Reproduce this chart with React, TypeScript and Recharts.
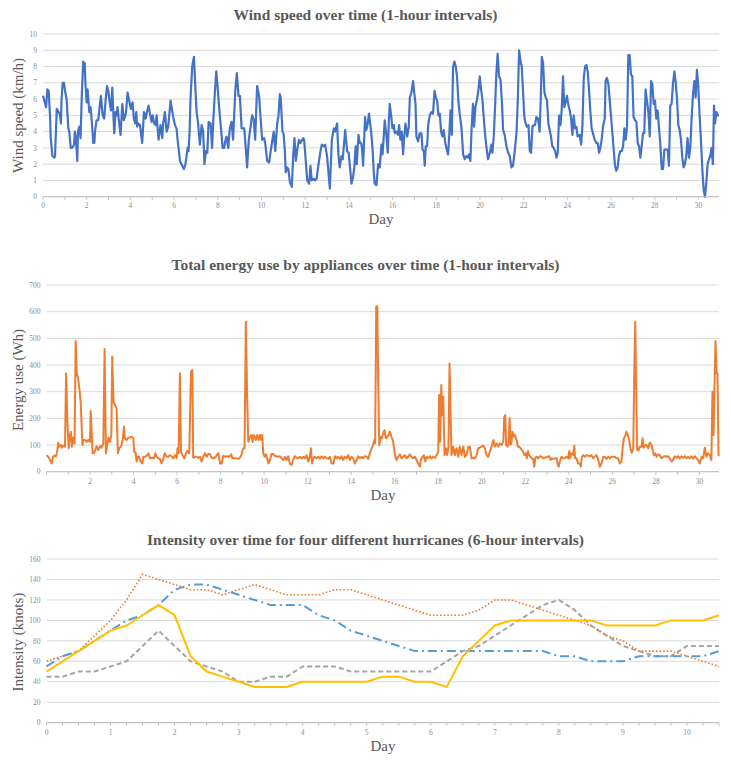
import React from "react";
import { LineChart, Line, XAxis, YAxis, CartesianGrid } from "recharts";

// ---- wind speed (day, km/h) ----
const windDays = [
  0, 0.14, 0.2, 0.26, 0.32, 0.35, 0.43, 0.52, 0.55, 0.63,
  0.72, 0.78, 0.82, 0.85, 0.9, 0.96, 1.01, 1.08, 1.16, 1.2,
  1.27, 1.33, 1.39, 1.42, 1.46, 1.51, 1.57, 1.6, 1.66, 1.72,
  1.77, 1.84, 1.91, 1.94, 2.0, 2.04, 2.12, 2.18, 2.24, 2.3,
  2.35, 2.38, 2.45, 2.53, 2.58, 2.65, 2.73, 2.8, 2.87, 2.93,
  2.99, 3.06, 3.11, 3.17, 3.26, 3.32, 3.37, 3.41, 3.48, 3.55,
  3.63, 3.7, 3.77, 3.8, 3.87, 3.93, 4.02, 4.1, 4.16, 4.22,
  4.27, 4.31, 4.36, 4.44, 4.54, 4.62, 4.7, 4.74, 4.83, 4.91,
  4.97, 5.02, 5.09, 5.15, 5.2, 5.29, 5.38, 5.46, 5.5, 5.58,
  5.66, 5.73, 5.84, 5.91, 5.96, 6.04, 6.11, 6.16, 6.27, 6.34,
  6.45, 6.52, 6.62, 6.66, 6.71, 6.75, 6.83, 6.91, 6.98, 7.03,
  7.1, 7.18, 7.26, 7.33, 7.39, 7.45, 7.52, 7.58, 7.67, 7.74,
  7.79, 7.87, 7.93, 7.99, 8.06, 8.16, 8.22, 8.29, 8.34, 8.4,
  8.48, 8.55, 8.63, 8.7, 8.8, 8.87, 8.95, 9.01, 9.09, 9.21,
  9.28, 9.34, 9.42, 9.5, 9.57, 9.65, 9.71, 9.8, 9.89, 9.95,
  10.03, 10.12, 10.17, 10.26, 10.35, 10.41, 10.5, 10.56, 10.63, 10.72,
  10.78, 10.84, 10.88, 10.96, 11.01, 11.07, 11.11, 11.17, 11.23, 11.3,
  11.39, 11.45, 11.51, 11.57, 11.63, 11.71, 11.78, 11.91, 11.95, 12.01,
  12.09, 12.18, 12.24, 12.3, 12.39, 12.45, 12.52, 12.59, 12.7, 12.76,
  12.85, 12.91, 13.0, 13.13, 13.22, 13.31, 13.37, 13.46, 13.52, 13.58,
  13.66, 13.72, 13.83, 13.92, 13.99, 14.12, 14.19, 14.25, 14.31, 14.36,
  14.44, 14.5, 14.56, 14.6, 14.65, 14.74, 14.8, 14.85, 14.92, 15.02,
  15.08, 15.14, 15.18, 15.26, 15.34, 15.41, 15.49, 15.54, 15.6, 15.64,
  15.72, 15.78, 15.83, 15.87, 15.95, 15.99, 16.06, 16.1, 16.18, 16.25,
  16.3, 16.36, 16.42, 16.48, 16.54, 16.59, 16.67, 16.74, 16.79, 16.86,
  16.94, 16.99, 17.05, 17.09, 17.17, 17.24, 17.32, 17.37, 17.43, 17.47,
  17.52, 17.58, 17.63, 17.7, 17.78, 17.85, 17.92, 17.98, 18.04, 18.1,
  18.16, 18.22, 18.28, 18.34, 18.4, 18.46, 18.54, 18.59, 18.65, 18.71,
  18.77, 18.83, 18.89, 18.95, 19.01, 19.07, 19.15, 19.23, 19.3, 19.38,
  19.46, 19.5, 19.56, 19.62, 19.68, 19.73, 19.79, 19.87, 19.93, 19.99,
  20.05, 20.11, 20.17, 20.23, 20.29, 20.37, 20.45, 20.52, 20.57, 20.63,
  20.69, 20.75, 20.81, 20.87, 20.94, 21.0, 21.06, 21.13, 21.21, 21.29,
  21.36, 21.44, 21.51, 21.59, 21.67, 21.73, 21.79, 21.85, 21.91, 21.97,
  22.03, 22.09, 22.15, 22.22, 22.28, 22.34, 22.4, 22.46, 22.52, 22.58,
  22.66, 22.73, 22.78, 22.83, 22.89, 22.95, 23.01, 23.07, 23.13, 23.19,
  23.25, 23.31, 23.37, 23.44, 23.5, 23.56, 23.62, 23.68, 23.74, 23.8,
  23.86, 23.92, 23.98, 24.05, 24.11, 24.17, 24.23, 24.29, 24.35, 24.41,
  24.47, 24.56, 24.63, 24.69, 24.75, 24.81, 24.87, 24.93, 24.99, 25.05,
  25.11, 25.17, 25.25, 25.33, 25.39, 25.45, 25.51, 25.57, 25.63, 25.71,
  25.75, 25.81, 25.88, 25.94, 26.0, 26.06, 26.12, 26.18, 26.24, 26.3,
  26.36, 26.42, 26.49, 26.55, 26.61, 26.67, 26.73, 26.79, 26.85, 26.91,
  26.97, 27.03, 27.1, 27.16, 27.22, 27.28, 27.34, 27.4, 27.46, 27.52,
  27.58, 27.64, 27.71, 27.77, 27.83, 27.89, 27.95, 28.01, 28.07, 28.13,
  28.19, 28.25, 28.32, 28.38, 28.44, 28.5, 28.59, 28.65, 28.71, 28.77,
  28.83, 28.9, 28.96, 29.02, 29.08, 29.14, 29.2, 29.26, 29.32, 29.38,
  29.44, 29.5, 29.57, 29.63, 29.69, 29.75, 29.81, 29.87, 29.93, 29.99,
  30.05, 30.12, 30.18, 30.24, 30.3, 30.36, 30.42, 30.48, 30.54, 30.6,
  30.66, 30.71, 30.76, 30.82, 30.88, 30.94,
];
const windSpeed = [
  6.2, 5.5, 6.6, 6.5, 5.0, 3.7, 2.5, 2.4, 2.5, 5.4,
  5.2, 5.0, 4.5, 6.0, 7.0, 7.0, 6.5, 6.0, 4.2, 4.0,
  3.0, 3.0, 3.1, 3.2, 4.0, 3.5, 2.2, 4.0, 4.3, 3.6,
  6.0, 8.3, 8.2, 7.0, 5.8, 6.6, 5.2, 5.5, 4.5, 3.3,
  3.3, 4.0, 4.7, 4.7, 5.4, 6.2, 5.0, 4.8, 6.0, 6.8,
  6.5, 5.7, 5.3, 6.7, 3.9, 5.2, 5.0, 5.5, 4.6, 3.8,
  5.7, 4.7, 5.0, 5.2, 6.4, 6.0, 5.4, 5.8, 4.8, 4.5,
  5.2, 4.3, 4.5, 4.4, 3.3, 5.2, 4.8, 5.1, 5.6, 5.0,
  4.6, 5.0, 4.5, 4.4, 5.0, 3.5, 4.4, 3.6, 4.5, 5.2,
  4.0, 4.3, 5.9, 5.3, 4.9, 4.4, 4.2, 3.5, 2.2, 2.0,
  1.7, 2.0, 3.0, 2.8, 4.0, 6.0, 8.0, 8.6, 6.5, 5.2,
  4.5, 3.2, 4.4, 4.0, 2.0, 2.8, 2.7, 4.6, 4.5, 3.0,
  4.6, 6.5, 7.7, 6.8, 5.5, 4.0, 3.0, 3.0, 3.4, 3.7,
  3.0, 4.2, 4.6, 3.5, 6.5, 7.6, 6.2, 6.2, 4.2, 4.2,
  3.0, 1.8, 3.5, 4.3, 5.0, 4.7, 3.5, 6.8, 6.2, 5.0,
  3.5, 3.6, 3.3, 2.2, 2.1, 2.7, 3.5, 4.0, 2.8, 4.5,
  5.0, 6.3, 6.1, 4.0, 3.9, 2.8, 1.5, 1.8, 1.7, 0.9,
  0.6, 2.5, 3.6, 2.2, 2.8, 3.5, 3.3, 3.6, 3.5, 2.5,
  1.0, 0.8, 1.9, 1.0, 1.1, 1.0, 1.1, 1.8, 2.8, 3.2,
  3.1, 3.2, 2.5, 0.5, 3.5, 4.2, 4.0, 4.5, 2.6, 1.8,
  2.5, 2.3, 4.1, 2.8, 2.7, 0.8, 1.2, 1.8, 3.1, 2.0,
  3.8, 3.3, 3.3, 3.0, 1.9, 4.9, 4.1, 4.4, 5.1, 4.0,
  3.0, 1.5, 0.8, 0.7, 2.0, 1.8, 3.2, 2.6, 3.8, 4.7,
  3.7, 2.7, 4.7, 5.7, 4.8, 4.2, 4.4, 3.9, 4.0, 3.8,
  4.4, 3.5, 4.0, 2.6, 3.8, 4.5, 3.7, 4.3, 6.1, 6.4,
  7.1, 6.4, 5.7, 3.7, 3.4, 3.9, 3.9, 2.9, 2.8, 1.9,
  3.1, 3.1, 4.4, 5.0, 5.2, 5.1, 6.5, 6.1, 5.9, 5.0,
  5.1, 4.0, 3.7, 4.1, 3.4, 3.0, 2.6, 3.7, 5.3, 3.8,
  8.0, 8.3, 8.0, 7.4, 5.9, 5.1, 4.3, 2.6, 2.3, 2.5,
  2.4, 2.6, 2.2, 4.3, 5.7, 4.3, 5.5, 6.0, 6.6, 7.4,
  6.6, 6.0, 4.9, 3.9, 3.1, 2.3, 2.7, 3.2, 2.7, 3.7,
  5.5, 7.6, 8.8, 7.4, 7.2, 5.9, 4.1, 3.8, 3.1, 2.7,
  2.5, 1.8, 1.9, 2.8, 3.9, 5.9, 9.0, 8.4, 8.0, 6.5,
  4.9, 4.5, 4.3, 4.4, 2.8, 2.7, 4.3, 4.4, 4.4, 4.9,
  4.8, 4.0, 5.9, 8.6, 8.2, 6.4, 6.1, 5.9, 4.5, 4.1,
  3.7, 3.1, 3.0, 2.8, 2.4, 2.7, 5.0, 4.4, 5.3, 7.4,
  5.5, 5.8, 6.2, 5.6, 5.3, 4.8, 3.8, 5.0, 4.2, 4.3,
  3.7, 3.8, 3.2, 4.4, 7.3, 8.0, 8.1, 7.7, 6.6, 5.3,
  4.2, 3.9, 3.5, 3.3, 3.3, 2.7, 3.0, 3.5, 4.3, 4.8,
  7.1, 7.3, 6.9, 5.9, 4.9, 3.9, 2.9, 1.9, 1.6, 1.8,
  2.5, 2.8, 2.8, 3.1, 4.2, 3.5, 4.3, 8.7, 8.7, 7.5,
  7.4, 4.9, 4.7, 4.6, 3.3, 3.1, 2.4, 3.1, 3.9, 3.9,
  6.6, 5.9, 5.2, 3.7, 7.1, 6.9, 5.7, 5.9, 4.8, 5.3,
  4.3, 3.3, 1.7, 1.7, 2.9, 2.9, 2.9, 1.9, 5.6, 5.7,
  6.9, 7.7, 7.0, 6.0, 4.4, 4.1, 3.5, 2.4, 1.8, 2.0,
  2.5, 3.6, 2.4, 3.1, 4.9, 6.3, 7.1, 6.1, 7.8, 6.8,
  5.1, 3.3, 1.6, 0.4, 0.0, 0.9, 2.0, 2.3, 2.5, 3.0,
  2.0, 5.6, 4.5, 5.2, 5.0, 5.0,
];
const windDayTicks = [0, 1, 2, 3, 4, 5, 6, 7, 8, 9, 10, 11, 12, 13, 14, 15, 16, 17, 18, 19, 20, 21, 22, 23, 24, 25, 26, 27, 28, 29, 30];
const windSpeedTicks = [0, 1, 2, 3, 4, 5, 6, 7, 8, 9, 10];

// ---- appliance energy use (day, Wh) ----
const energyDays = [
  0, 0.08, 0.16, 0.24, 0.28, 0.34, 0.44, 0.5, 0.54, 0.59,
  0.65, 0.71, 0.77, 0.85, 0.9, 0.96, 1.02, 1.08, 1.12, 1.17,
  1.23, 1.29, 1.34, 1.39, 1.45, 1.51, 1.57, 1.65, 1.69, 1.77,
  1.84, 1.92, 2.0, 2.03, 2.07, 2.12, 2.18, 2.24, 2.3, 2.38,
  2.46, 2.53, 2.61, 2.67, 2.73, 2.79, 2.85, 2.92, 2.98, 3.02,
  3.08, 3.15, 3.22, 3.28, 3.34, 3.42, 3.5, 3.56, 3.6, 3.68,
  3.76, 3.83, 3.91, 3.99, 4.03, 4.1, 4.14, 4.2, 4.26, 4.32,
  4.4, 4.45, 4.54, 4.62, 4.69, 4.75, 4.85, 4.94, 5.0, 5.06,
  5.14, 5.21, 5.29, 5.37, 5.43, 5.52, 5.6, 5.67, 5.75, 5.83,
  5.9, 5.98, 6.02, 6.07, 6.13, 6.18, 6.25, 6.33, 6.41, 6.47,
  6.56, 6.64, 6.7, 6.74, 6.82, 6.9, 6.97, 7.05, 7.13, 7.2,
  7.28, 7.36, 7.43, 7.51, 7.59, 7.66, 7.74, 7.82, 7.9, 7.97,
  8.05, 8.12, 8.22, 8.31, 8.4, 8.49, 8.55, 8.64, 8.74, 8.83,
  8.92, 8.98, 9.04, 9.1, 9.16, 9.22, 9.27, 9.35, 9.42, 9.47,
  9.53, 9.62, 9.68, 9.75, 9.81, 9.87, 9.91, 9.96, 10.02, 10.08,
  10.14, 10.2, 10.27, 10.34, 10.42, 10.5, 10.57, 10.65, 10.73, 10.8,
  10.88, 10.96, 11.03, 11.11, 11.18, 11.26, 11.34, 11.41, 11.49, 11.57,
  11.64, 11.72, 11.8, 11.87, 11.95, 12.03, 12.1, 12.15, 12.2, 12.26,
  12.33, 12.41, 12.49, 12.56, 12.64, 12.72, 12.79, 12.87, 12.95, 13.02,
  13.1, 13.18, 13.25, 13.33, 13.4, 13.48, 13.56, 13.63, 13.71, 13.79,
  13.86, 13.94, 14.02, 14.09, 14.17, 14.25, 14.32, 14.4, 14.48, 14.55,
  14.63, 14.71, 14.78, 14.86, 14.94, 15.01, 15.06, 15.1, 15.15, 15.2,
  15.24, 15.29, 15.35, 15.41, 15.47, 15.53, 15.59, 15.66, 15.72, 15.78,
  15.85, 15.93, 16.01, 16.08, 16.16, 16.24, 16.31, 16.39, 16.47, 16.54,
  16.62, 16.7, 16.77, 16.85, 16.93, 17.0, 17.08, 17.16, 17.2, 17.28,
  17.34, 17.4, 17.46, 17.54, 17.62, 17.69, 17.77, 17.85, 17.92, 18.0,
  18.04, 18.09, 18.14, 18.18, 18.23, 18.29, 18.35, 18.41, 18.47, 18.52,
  18.56, 18.61, 18.69, 18.76, 18.84, 18.92, 18.99, 19.07, 19.15, 19.22,
  19.3, 19.38, 19.45, 19.53, 19.61, 19.68, 19.76, 19.84, 19.91, 19.99,
  20.07, 20.14, 20.22, 20.3, 20.37, 20.45, 20.53, 20.6, 20.68, 20.76,
  20.83, 20.91, 20.99, 21.03, 21.08, 21.12, 21.18, 21.23, 21.28, 21.32,
  21.37, 21.41, 21.46, 21.52, 21.6, 21.66, 21.72, 21.78, 21.84, 21.9,
  21.96, 22.03, 22.07, 22.12, 22.18, 22.24, 22.3, 22.36, 22.41, 22.46,
  22.52, 22.59, 22.67, 22.75, 22.82, 22.9, 22.98, 23.05, 23.1, 23.16,
  23.22, 23.28, 23.36, 23.44, 23.48, 23.53, 23.59, 23.66, 23.74, 23.82,
  23.89, 23.97, 24.02, 24.06, 24.12, 24.2, 24.25, 24.29, 24.35, 24.43,
  24.51, 24.55, 24.6, 24.66, 24.74, 24.81, 24.89, 24.97, 25.04, 25.12,
  25.2, 25.27, 25.35, 25.43, 25.5, 25.58, 25.66, 25.73, 25.81, 25.88,
  25.96, 26.04, 26.11, 26.19, 26.27, 26.34, 26.42, 26.47, 26.53, 26.59,
  26.65, 26.71, 26.77, 26.83, 26.89, 26.96, 27.0, 27.05, 27.09, 27.14,
  27.2, 27.26, 27.34, 27.39, 27.43, 27.49, 27.57, 27.65, 27.72, 27.8,
  27.85, 27.91, 27.97, 28.03, 28.11, 28.18, 28.26, 28.34, 28.41, 28.49,
  28.57, 28.64, 28.72, 28.79, 28.87, 28.95, 29.02, 29.1, 29.18, 29.25,
  29.33, 29.41, 29.48, 29.56, 29.64, 29.71, 29.79, 29.87, 29.94, 30.02,
  30.1, 30.17, 30.25, 30.32, 30.4, 30.48, 30.55, 30.6, 30.65, 30.69,
  30.74, 30.79, 30.83, 30.88,
];
const energyUse = [
  62, 56, 44, 31, 50, 60, 58, 81, 109, 94,
  100, 90, 98, 94, 369, 188, 88, 138, 150, 94,
  128, 106, 490, 369, 350, 312, 262, 100, 119, 119,
  112, 119, 112, 228, 156, 69, 69, 81, 96, 81,
  96, 90, 106, 460, 69, 100, 128, 112, 138, 431,
  262, 250, 238, 69, 88, 94, 119, 169, 125, 119,
  128, 128, 131, 125, 75, 69, 38, 56, 56, 38,
  31, 56, 56, 62, 69, 50, 52, 50, 69, 56,
  50, 48, 31, 50, 69, 56, 56, 62, 58, 50,
  62, 52, 88, 69, 369, 75, 62, 50, 69, 78,
  69, 375, 381, 52, 56, 56, 52, 56, 38, 56,
  69, 56, 66, 66, 52, 50, 52, 62, 69, 31,
  31, 60, 56, 58, 56, 65, 50, 50, 50, 48,
  56, 69, 88, 88, 562, 275, 112, 131, 138, 112,
  138, 119, 138, 119, 138, 119, 138, 69, 56, 65,
  50, 31, 44, 66, 66, 58, 58, 56, 58, 50,
  44, 56, 44, 58, 31, 25, 44, 58, 52, 50,
  56, 50, 56, 50, 62, 38, 56, 88, 31, 50,
  56, 50, 56, 50, 58, 50, 56, 50, 48, 56,
  31, 31, 58, 50, 56, 48, 58, 44, 56, 50,
  62, 44, 56, 50, 31, 44, 58, 50, 56, 50,
  58, 56, 48, 69, 88, 100, 119, 106, 619, 619,
  338, 100, 131, 125, 144, 156, 125, 131, 138, 150,
  131, 112, 62, 44, 56, 65, 50, 56, 62, 50,
  56, 65, 56, 50, 56, 44, 31, 19, 44, 56,
  62, 38, 56, 50, 58, 50, 56, 52, 62, 75,
  288, 112, 325, 212, 281, 62, 88, 62, 94, 406,
  244, 62, 94, 62, 88, 56, 94, 62, 94, 56,
  62, 94, 94, 50, 50, 50, 62, 88, 90, 94,
  98, 88, 62, 56, 75, 94, 119, 94, 106, 94,
  106, 100, 112, 206, 212, 100, 94, 106, 200, 100,
  112, 150, 131, 138, 119, 94, 94, 88, 81, 75,
  62, 69, 50, 78, 62, 56, 50, 48, 19, 52,
  56, 50, 58, 56, 50, 52, 56, 56, 58, 44,
  50, 48, 50, 50, 31, 19, 38, 56, 50, 50,
  56, 50, 78, 50, 69, 62, 98, 50, 50, 31,
  31, 19, 56, 62, 56, 62, 60, 58, 62, 50,
  58, 62, 44, 19, 31, 56, 56, 48, 56, 50,
  56, 56, 56, 50, 50, 31, 38, 88, 125, 134,
  150, 138, 119, 88, 71, 88, 338, 562, 338, 81,
  79, 94, 94, 125, 90, 100, 100, 88, 109, 100,
  81, 62, 69, 56, 65, 62, 50, 56, 58, 56,
  58, 50, 38, 44, 58, 52, 58, 50, 58, 52,
  58, 50, 56, 50, 58, 50, 58, 50, 44, 31,
  56, 50, 90, 56, 69, 62, 44, 300, 138, 312,
  490, 369, 369, 58,
];
const energyDayTicks = [0, 1, 2, 3, 4, 5, 6, 7, 8, 9, 10, 11, 12, 13, 14, 15, 16, 17, 18, 19, 20, 21, 22, 23, 24, 25, 26, 27, 28, 29, 30];
const energyUseTicks = [0, 100, 200, 300, 400, 500, 600, 700];

// ---- hurricane intensity, 6-hour steps (knots) ----
const hurricaneDays = [
  0, 0.25, 0.5, 0.75, 1, 1.25, 1.5, 1.75, 2, 2.25, 2.5, 2.75, 3, 3.25, 3.5, 3.75,
  4, 4.25, 4.5, 4.75, 5, 5.25, 5.5, 5.75, 6, 6.25, 6.5, 6.75, 7, 7.25, 7.5, 7.75,
  8, 8.25, 8.5, 8.75, 9, 9.25, 9.5, 9.75, 10, 10.25, 10.5,
];
const hurricaneBlue = [55, 65, 70, 80, 90, 100, 105, 115, 130, 135, 135, 130, 125, 120, 115, 115, 115, 105, 100, 90, 85, 80, 75, 70, 70, 70, 70, 70, 70, 70, 70, 70, 65, 65, 60, 60, 60, 65, 65, 65, 65, 65, 70];
const hurricaneOrange = [60, 65, 70, 85, 100, 120, 145, 140, 135, 130, 130, 125, 130, 135, 130, 125, 125, 125, 130, 130, 125, 120, 115, 110, 105, 105, 105, 110, 120, 120, 115, 110, 105, 100, 95, 85, 80, 70, 70, 70, 65, 60, 55];
const hurricaneGray = [45, 45, 50, 50, 55, 60, 75, 90, 75, 60, 55, 50, 40, 40, 45, 45, 55, 55, 55, 50, 50, 50, 50, 50, 50, 60, 70, 75, 85, 95, 105, 115, 120, 110, 95, 85, 75, 70, 65, 65, 75, 75, 75];
const hurricaneYellow = [50, 60, 70, 80, 90, 95, 105, 115, 105, 65, 50, 45, 40, 35, 35, 35, 40, 40, 40, 40, 40, 45, 45, 40, 40, 35, 65, 80, 95, 100, 100, 100, 100, 100, 100, 95, 95, 95, 95, 100, 100, 100, 105];
const intensityTicks = [0, 20, 40, 60, 80, 100, 120, 140, 160];

const windData = windDays.map((day, i) => ({ day, speed: windSpeed[i] }));
const energyData = energyDays.map((day, i) => ({ day, use: energyUse[i] }));
const hurricaneData = hurricaneDays.map((day, i) => ({
  day,
  blue: hurricaneBlue[i],
  orange: hurricaneOrange[i],
  gray: hurricaneGray[i],
  yellow: hurricaneYellow[i],
}));

const SERIF = "'Liberation Serif', 'DejaVu Serif', serif";
const TICK = { fontSize: 7.5, fill: "#8c8c8c", stroke: "none", fontFamily: SERIF };
const AXIS_LINE = { stroke: "#bfbfbf" };
const GRID = "#d9d9d9";
const TEXT = "#595959";

const evenLabel = (v: number) => (v % 2 === 0 ? String(v) : "");
const evenNoZero = (v: number) => (v % 2 === 0 && v !== 0 ? String(v) : "");
const wholeLabel = (v: number) => (Number.isInteger(v) ? String(v) : "");

function Titles() {
  const title = { fontFamily: SERIF, fontSize: 15.5, fontWeight: 700, fill: TEXT, textAnchor: "middle" as const };
  const axis = { fontFamily: SERIF, fontSize: 15, fill: TEXT, textAnchor: "middle" as const };
  return (
    <svg width={731} height={767} style={{ position: "absolute", left: 0, top: 0, pointerEvents: "none" }}>
      <text x={365.5} y={20} {...title}>Wind speed over time (1-hour intervals)</text>
      <text x={365.5} y={270} {...title}>Total energy use by appliances over time (1-hour intervals)</text>
      <text x={365.5} y={545} {...title}>Intensity over time for four different hurricanes (6-hour intervals)</text>

      <text x={18} y={115.5} transform="rotate(-90 18 115.5)" dominantBaseline="central" {...axis}>Wind speed (km/h)</text>
      <text x={18} y={380} transform="rotate(-90 18 380)" dominantBaseline="central" {...axis}>Energy use (Wh)</text>
      <text x={18} y={642} transform="rotate(-90 18 642)" dominantBaseline="central" {...axis}>Intensity (knots)</text>

      <text x={381} y={224} {...axis}>Day</text>
      <text x={383} y={500} {...axis}>Day</text>
      <text x={383} y={751} {...axis}>Day</text>
    </svg>
  );
}

export default function App() {
  return (
    <div style={{ position: "absolute", left: 0, top: 0, width: 731, height: 767, background: "#fff" }}>
      <div style={{ position: "absolute", left: 0, top: 0 }}>
        <LineChart width={731} height={215} data={windData} margin={{ top: 34, right: 12, bottom: 0, left: 0 }}>
          <CartesianGrid vertical={false} stroke={GRID} />
          <XAxis dataKey="day" type="number" domain={[0, 30.94]} ticks={windDayTicks} interval={0}
            tickFormatter={evenLabel} height={18.3} axisLine={AXIS_LINE} tickLine={AXIS_LINE}
            tickSize={3} tickMargin={3} tick={TICK} />
          <YAxis domain={[0, 10]} ticks={windSpeedTicks} interval={0} width={43}
            axisLine={false} tickLine={false} tickSize={0} tickMargin={6} tick={TICK} />
          <Line dataKey="speed" stroke="#4472C4" strokeWidth={2.2} strokeLinejoin="round" dot={false} isAnimationActive={false} />
        </LineChart>
      </div>

      <div style={{ position: "absolute", left: 0, top: 250 }}>
        <LineChart width={731} height={240} data={energyData} margin={{ top: 35, right: 12, bottom: 0, left: 0 }}>
          <CartesianGrid vertical={false} stroke={GRID} />
          <XAxis dataKey="day" type="number" domain={[0, 30.9]} ticks={energyDayTicks} interval={0}
            tickFormatter={evenNoZero} height={18.3} axisLine={AXIS_LINE} tickLine={AXIS_LINE}
            tickSize={3} tickMargin={4} tick={TICK} />
          <YAxis domain={[0, 700]} ticks={energyUseTicks} interval={0} width={46.5}
            axisLine={false} tickLine={false} tickSize={0} tickMargin={6} tick={TICK} />
          <Line dataKey="use" stroke="#ED7D31" strokeWidth={2} strokeLinejoin="round" dot={false} isAnimationActive={false} />
        </LineChart>
      </div>

      <div style={{ position: "absolute", left: 0, top: 520 }}>
        <LineChart width={731} height={222} data={hurricaneData} margin={{ top: 39, right: 12, bottom: 0, left: 0 }}>
          <CartesianGrid vertical={false} stroke={GRID} />
          <XAxis dataKey="day" type="number" domain={[0, 10.5]} ticks={hurricaneDays} interval={0}
            tickFormatter={wholeLabel} height={19.3} axisLine={AXIS_LINE} tickLine={AXIS_LINE}
            tickSize={3} tickMargin={4} tick={TICK} />
          <YAxis domain={[0, 160]} ticks={intensityTicks} interval={0} width={46.5}
            axisLine={false} tickLine={false} tickSize={0} tickMargin={6} tick={TICK} />
          <Line dataKey="gray" stroke="#A5A5A5" strokeWidth={2} strokeDasharray="5 3" dot={false} isAnimationActive={false} />
          <Line dataKey="orange" stroke="#ED7D31" strokeWidth={1.6} strokeDasharray="1.6 2" dot={false} isAnimationActive={false} />
          <Line dataKey="blue" stroke="#5B9BD5" strokeWidth={2} strokeDasharray="9 4 2 4" dot={false} isAnimationActive={false} />
          <Line dataKey="yellow" stroke="#FFC000" strokeWidth={2} dot={false} isAnimationActive={false} />
        </LineChart>
      </div>

      <Titles />
    </div>
  );
}
